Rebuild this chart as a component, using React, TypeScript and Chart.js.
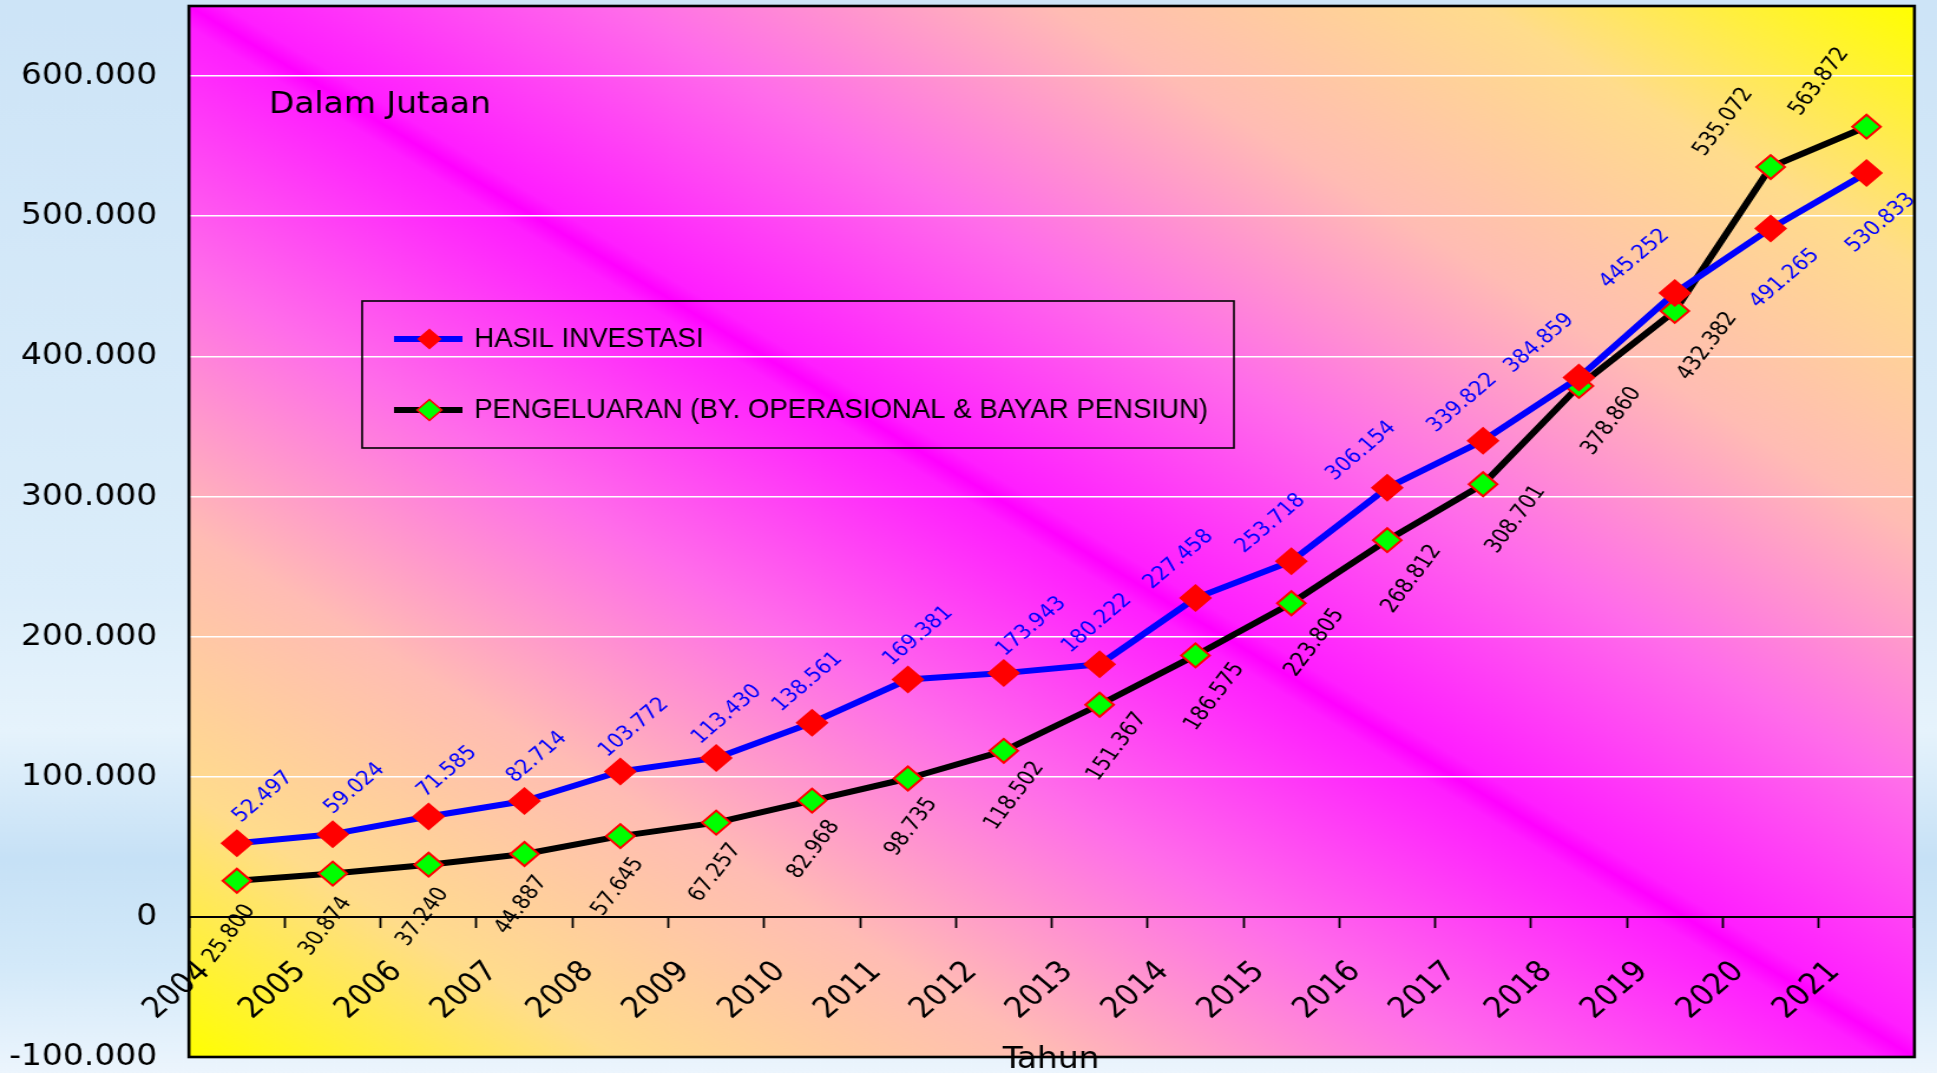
import React, { useEffect, useRef } from "react";
import { Chart, registerables } from "chart.js";

Chart.register(...registerables);

// ---------- data ----------
const years = [
  "2004", "2005", "2006", "2007", "2008", "2009", "2010", "2011", "2012",
  "2013", "2014", "2015", "2016", "2017", "2018", "2019", "2020", "2021",
];
const hasilInvestasi = [
  52497, 59024, 71585, 82714, 103772, 113430, 138561, 169381, 173943,
  180222, 227458, 253718, 306154, 339822, 384859, 445252, 491265, 530833,
];
const pengeluaran = [
  25800, 30874, 37240, 44887, 57645, 67257, 82968, 98735, 118502,
  151367, 186575, 223805, 268812, 308701, 378860, 432382, 535072, 563872,
];
const yTicks = [-100000, 0, 100000, 200000, 300000, 400000, 500000, 600000];
const seriesNames = ["HASIL INVESTASI", "PENGELUARAN (BY. OPERASIONAL & BAYAR PENSIUN)"];
const unitNote = "Dalam Jutaan";
const xTitle = "Tahun";

// ---------- helpers ----------
const fmt = (v: number) => {
  const neg = v < 0;
  const s = Math.abs(Math.round(v)).toString().replace(/\B(?=(\d{3})+(?!\d))/g, ".");
  return (neg ? "-" : "") + s;
};

const OUT_W = 1937;
const OUT_H = 1073;
const STRETCH = 1.18; // original picture is horizontally stretched
const CW = Math.round(OUT_W / STRETCH);
const CH = OUT_H;
const PLOT_LEFT = 189 / STRETCH;
const PLOT_RIGHT = 1915 / STRETCH;
const COND = '"DejaVu Sans Condensed", "DejaVu Sans", sans-serif';
const SANS = '"Liberation Sans", Arial, sans-serif';

const backgroundPlugin = {
  id: "bgPlugin",
  beforeDraw(chart: any) {
    const { ctx, width, height, chartArea: ca } = chart;
    ctx.save();
    const g = ctx.createLinearGradient(0, 0, 0, height);
    g.addColorStop(0, "#cde4f7");
    g.addColorStop(0.55, "#dbedfa");
    g.addColorStop(0.68, "#e6f3fc");
    g.addColorStop(0.8, "#c6e1f6");
    g.addColorStop(0.9, "#d3e9f9");
    g.addColorStop(1, "#ecf5fd");
    ctx.fillStyle = g;
    ctx.fillRect(0, 0, width, height);

    ctx.translate(ca.left, ca.top);
    ctx.scale(ca.right - ca.left, ca.bottom - ca.top);
    const pg = ctx.createLinearGradient(0, 1, 1, 0);
    pg.addColorStop(0, "#ffff00");
    pg.addColorStop(0.125, "#ffdc8c");
    pg.addColorStop(0.25, "#ffbcb4");
    pg.addColorStop(0.375, "#ff6cea");
    pg.addColorStop(0.49, "#ff1eff");
    pg.addColorStop(0.5, "#ff00ff");
    pg.addColorStop(0.51, "#ff1eff");
    pg.addColorStop(0.625, "#ff6cea");
    pg.addColorStop(0.75, "#ffbcb4");
    pg.addColorStop(0.875, "#ffdc8c");
    pg.addColorStop(1, "#ffff00");
    ctx.fillStyle = pg;
    ctx.fillRect(0, 0, 1, 1);
    ctx.restore();
  },
};

const overlayPlugin = {
  id: "overlayPlugin",
  afterDatasetsDraw(chart: any) {
    const ctx = chart.ctx;
    const values = [hasilInvestasi, pengeluaran];
    for (let d = 0; d < 2; d++) {
      const pts = chart.getDatasetMeta(d).data;
      for (let j = 0; j < pts.length; j++) {
        const p = pts[j];
        const prev = pts[j - 1];
        const next = pts[j + 1];
        let s: number;
        if (prev && next) s = (next.y - prev.y) / (next.x - prev.x);
        else if (next) s = (next.y - p.y) / (next.x - p.x);
        else s = (p.y - prev.y) / (p.x - prev.x);
        const above = values[d][j] >= values[1 - d][j];
        let dx: number, dy: number;
        if (above && d === 0) {
          const sc = Math.max(-1, Math.min(0, s));
          dx = 30 + 70 * sc;
          dy = -48 - 15 * sc;
        } else if (above) {
          dx = -40;
          dy = -45;
        } else if (d === 1) {
          const sc = Math.max(-0.9, Math.min(0, s));
          dx = -10 - 42 * sc;
          dy = 55 + 22 * sc;
        } else {
          dx = 12;
          dy = 50;
        }
        ctx.save();
        ctx.translate(p.x + dx, p.y + dy);
        ctx.rotate((-(d === 0 ? 45 : 57) * Math.PI) / 180);
        ctx.font = `${d === 0 ? 20 : 20.5}px ${COND}`;
        ctx.fillStyle = d === 0 ? "#0000ff" : "#000000";
        ctx.textAlign = "center";
        ctx.textBaseline = "middle";
        ctx.fillText(fmt(values[d][j]), 0, 0);
        ctx.restore();
      }
    }
  },
  afterDraw(chart: any) {
    const { ctx, chartArea: ca } = chart;
    ctx.save();
    // unit note
    ctx.fillStyle = "#000";
    ctx.font = `31px ${COND}`;
    ctx.textAlign = "left";
    ctx.textBaseline = "alphabetic";
    ctx.fillText(unitNote, 228, 113);

    // legend
    const lx = 307, ly = 301, lw = 739, lh = 147;
    ctx.strokeStyle = "#000";
    ctx.lineWidth = 1.6;
    ctx.strokeRect(lx, ly, lw, lh);
    const rows = [339, 410];
    const ds = chart.data.datasets;
    rows.forEach((ry, i) => {
      ctx.beginPath();
      ctx.moveTo(334, ry);
      ctx.lineTo(392, ry);
      ctx.strokeStyle = ds[i].borderColor;
      ctx.lineWidth = 6;
      ctx.stroke();
      const r = 10.5;
      ctx.beginPath();
      ctx.moveTo(364 - r, ry);
      ctx.lineTo(364, ry - r);
      ctx.lineTo(364 + r, ry);
      ctx.lineTo(364, ry + r);
      ctx.closePath();
      ctx.fillStyle = ds[i].pointBackgroundColor;
      ctx.fill();
      if (i === 1) {
        ctx.strokeStyle = ds[i].pointBorderColor;
        ctx.lineWidth = 1.5;
        ctx.stroke();
      }
      ctx.save();
      ctx.translate(402, ry);
      ctx.scale(0.82, 1);
      ctx.fillStyle = "#000";
      ctx.font = `28.5px ${SANS}`;
      ctx.textBaseline = "middle";
      ctx.textAlign = "left";
      ctx.fillText(seriesNames[i], 0, 0);
      ctx.restore();
    });

    // x title
    ctx.font = `31px ${COND}`;
    ctx.textAlign = "center";
    ctx.textBaseline = "alphabetic";
    ctx.fillStyle = "#000";
    ctx.fillText(xTitle, 891, 1068);

    // plot border
    ctx.strokeStyle = "#000";
    ctx.lineWidth = 2.6;
    ctx.strokeRect(ca.left, ca.top, ca.right - ca.left, ca.bottom - ca.top);
    ctx.restore();
  },
};

export default function App() {
  const ref = useRef<HTMLCanvasElement | null>(null);

  useEffect(() => {
    if (!ref.current) return;
    const chart = new Chart(ref.current, {
      type: "line",
      data: {
        labels: years,
        datasets: [
          {
            label: seriesNames[0],
            data: hasilInvestasi,
            borderColor: "#0000ff",
            borderWidth: 6,
            borderJoinStyle: "round",
            pointStyle: "rectRot",
            pointRadius: 14,
            pointBackgroundColor: "#ff0000",
            pointBorderColor: "#ff0000",
            pointBorderWidth: 0,
            tension: 0,
          },
          {
            label: seriesNames[1],
            data: pengeluaran,
            borderColor: "#000000",
            borderWidth: 6,
            borderJoinStyle: "round",
            pointStyle: "rectRot",
            pointRadius: 12,
            pointBackgroundColor: "#00ff00",
            pointBorderColor: "#ff0000",
            pointBorderWidth: 2,
            tension: 0,
          },
        ],
      },
      options: {
        responsive: false,
        animation: false,
        devicePixelRatio: 1,
        events: [],
        layout: {
          autoPadding: false,
          padding: { left: 0, top: 6, right: CW - PLOT_RIGHT, bottom: 16 },
        },
        plugins: {
          legend: { display: false },
          tooltip: { enabled: false },
          title: { display: false },
        },
        scales: {
          x: {
            type: "category",
            position: { y: 0 } as any,
            offset: true,
            grid: {
              offset: true,
              drawOnChartArea: false,
              drawTicks: true,
              tickLength: 10,
              tickColor: "#000",
              tickWidth: 1.8,
            },
            border: { display: true, color: "#000", width: 2 },
            ticks: {
              autoSkip: false,
              minRotation: 45,
              maxRotation: 45,
              padding: 28,
              labelOffset: -27,
              color: "#000",
              font: { family: COND, size: 29 },
            },
            afterFit: (s: any) => {
              s.paddingLeft = 0;
              s.paddingRight = 0;
            },
          },
          y: {
            type: "linear",
            min: -100000,
            max: 650000,
            afterBuildTicks: (s: any) => {
              s.ticks = yTicks.map((v) => ({ value: v }));
            },
            afterFit: (s: any) => {
              s.width = PLOT_LEFT;
              s.paddingTop = 0;
              s.paddingBottom = 0;
            },
            grid: {
              color: (c: any) => (c.tick && c.tick.value > 0 ? "#ffffff" : "rgba(0,0,0,0)"),
              lineWidth: 1.6,
              drawTicks: false,
            },
            border: { display: false },
            ticks: {
              padding: 27,
              color: "#000",
              font: { family: COND, size: 31, lineHeight: 1 },
              callback: (v: any) => fmt(Number(v)),
            },
          },
        },
      } as any,
      plugins: [backgroundPlugin, overlayPlugin],
    });
    return () => chart.destroy();
  }, []);

  return (
    <div style={{ position: "absolute", left: 0, top: 0, width: OUT_W, height: OUT_H, overflow: "hidden" }}>
      <canvas
        ref={ref}
        width={CW}
        height={CH}
        style={{ display: "block", width: `${OUT_W}px`, height: `${OUT_H}px` }}
      />
    </div>
  );
}
